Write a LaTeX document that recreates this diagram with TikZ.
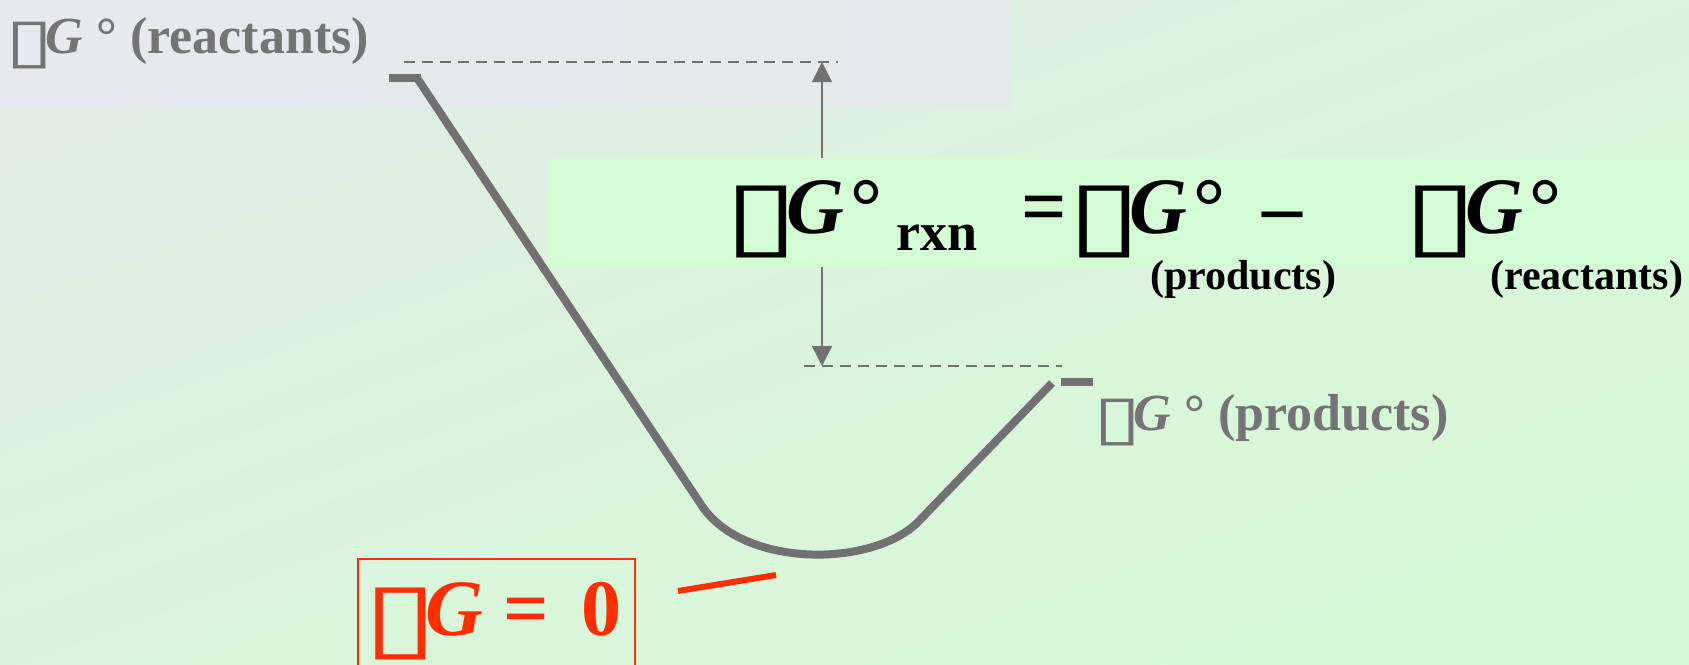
\documentclass[tikz,border=0pt]{standalone}
\usepackage{fontspec}
\setmainfont{Liberation Serif}
\newfontfamily\tofufont{DejaVu Sans}
\usepackage{tikz}
\usetikzlibrary{arrows.meta, positioning, calc}
\usepackage{xcolor}
\definecolor{bgtop}{HTML}{E2EDE6}
\definecolor{bgbottom}{HTML}{D5F9D5}
\definecolor{stripleft}{HTML}{E7E9EE}
\definecolor{stripright}{HTML}{E4EAEA}
\definecolor{eqgreen}{HTML}{D4FCD4}
\definecolor{curvegray}{HTML}{717171}
\definecolor{labelgray}{HTML}{747474}
\definecolor{zerored}{HTML}{FF2E00}
\newcommand{\tofu}{\hspace{-0.21em}\raisebox{-0.17em}{\resizebox*{0.93em}{0.9em}{\tofufont\bfseries\upshape ▯}}\hspace{-0.15em}}

\tikzset{
  energyline/.style={draw=curvegray, line width=8pt},
  levelline/.style={draw=curvegray, line width=1.2pt, dash pattern=on 11pt off 7pt},
  gaparrow/.style={draw=curvegray, line width=1.5pt, {Triangle[length=20pt,width=20pt]}-{Triangle[length=20pt,width=20pt]}},
  graylabel/.style={text=labelgray, font=\fontsize{52}{60}\selectfont\bfseries, inner sep=0pt, anchor=base west},
  eqtext/.style={text=black, font=\fontsize{80}{90}\selectfont\bfseries, inner sep=0pt, anchor=base west},
  eqsub/.style={text=black, font=\fontsize{42}{50}\selectfont\bfseries, inner sep=0pt, anchor=base west},
}

\begin{document}
\begin{tikzpicture}[x=1pt, y=-1pt]
    \useasboundingbox (0,0) rectangle (1689,664);
    % background
    \shade[top color=bgtop, bottom color=bgbottom, middle color=bgbottom!60!bgtop, shading angle=20] (0,0) rectangle (1689,664);
    \shade[left color=stripleft, right color=stripright] (0,0) rectangle (1010,108);

    % energy levels and gap arrow
    \draw[levelline] (404,62) -- (838,62);
    \draw[levelline] (804,366) -- (1062,366);
    \coordinate (gaptop) at (822,62);
    \coordinate (gapbot) at (822,366);
    \draw[gaparrow] (gapbot) -- (gaptop);

    % free energy curve
    \coordinate (reacL) at (389,78);
    \coordinate (reacR) at (421,78);
    \coordinate (slopeA) at (417,78);
    \coordinate (wellL) at (700,503);
    \coordinate (wellR) at (917,523);
    \coordinate (slopeB) at (1052,383);
    \coordinate (prodL) at (1061,382);
    \coordinate (prodR) at (1093,382);
    \draw[energyline] (reacL) -- (reacR);
    \draw[energyline] (slopeA) -- (wellL) .. controls (740,568) and (870,568) .. (wellR) -- (slopeB);
    \draw[energyline] (prodL) -- (prodR);

    % equation band
    \fill[eqgreen] (549,158) rectangle (1689,267);
    \node[eqtext] (lhs) at (741,233) {\tofu\textit{G}\hspace{0.08em}°};
    \node[eqsub, font=\fontsize{54}{60}\selectfont\bfseries] (rxn) at (896,250) {rxn};
    \node[eqtext] (equals) at (1021,233) {=};
    \node[eqtext] (gprod) at (1084,233) {\tofu\textit{G}\hspace{0.08em}°};
    \node[eqtext] (minus) at (1262,233) {–};
    \node[eqtext] (greac) at (1420,233) {\tofu\textit{G}\hspace{0.08em}°};
    \node[eqsub] (subprod) at (1150,289) {(products)};
    \node[eqsub] (subreac) at (1490,289) {(reactants)};

    % level labels
    \node[graylabel] (reaclabel) at (16,53) {\tofu\textit{G} ° (reactants)};
    \node[graylabel] (prodlabel) at (1104,430) {\tofu\textit{G} ° (products)};

    % equilibrium box
    \node[draw=zerored, line width=1.5pt, anchor=north west, minimum width=277pt, minimum height=130pt] (zerobox) at (357,558) {};
    \node[eqtext, text=zerored] (zerotext) at (380,635) {\tofu\textit{G} =\hspace{0.4em}0};
    \coordinate (pointA) at (678,591);
    \coordinate (pointB) at (776,575);
    \draw[draw=zerored, line width=6pt] (pointA) -- (pointB);
\end{tikzpicture}
\end{document}
